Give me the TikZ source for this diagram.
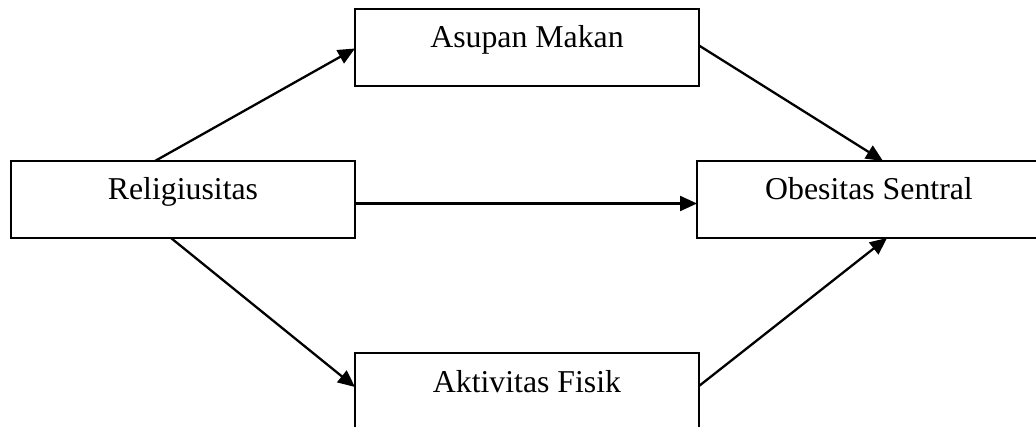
\documentclass[tikz,border=0pt]{standalone}
\usepackage{fontspec}
\setmainfont{Liberation Serif}
\usetikzlibrary{arrows.meta,calc}
\tikzset{
  box/.style={draw=black, line width=2pt, rectangle, minimum width=344pt, minimum height=77pt,
    outer sep=0pt, inner sep=0pt, font=\fontsize{31.8}{38}\selectfont, text height=22pt, text depth=21pt},
  arr/.style={line width=2.3pt, -{Triangle[length=17pt,width=15pt]}}
}
\begin{document}
\begin{tikzpicture}[x=1pt,y=-1pt]
\useasboundingbox (0,0) rectangle (1036,427);
\node[box, anchor=north west] (R) at (11,161) {Religiusitas};
\node[box, anchor=north west] (A) at (355,9) {Asupan Makan};
\node[box, anchor=north west] (O) at (697,161) {Obesitas Sentral};
\node[box, anchor=north west] (K) at (355,353) {Aktivitas Fisik};
\draw[arr] ([xshift=144pt]R.north west) -- ([yshift=-1pt]A.west);
\draw[arr] ([yshift=-4pt]R.east) -- ([yshift=-4pt]O.west);
\draw[arr] ([xshift=160pt]R.south west) -- ([yshift=-34pt]K.north west);
\draw[arr] ([yshift=2pt]A.east) -- ([xshift=186pt]O.north west);
\draw[arr] ([yshift=-33pt]K.north east) -- ([xshift=190pt]O.south west);
\end{tikzpicture}
\end{document}
